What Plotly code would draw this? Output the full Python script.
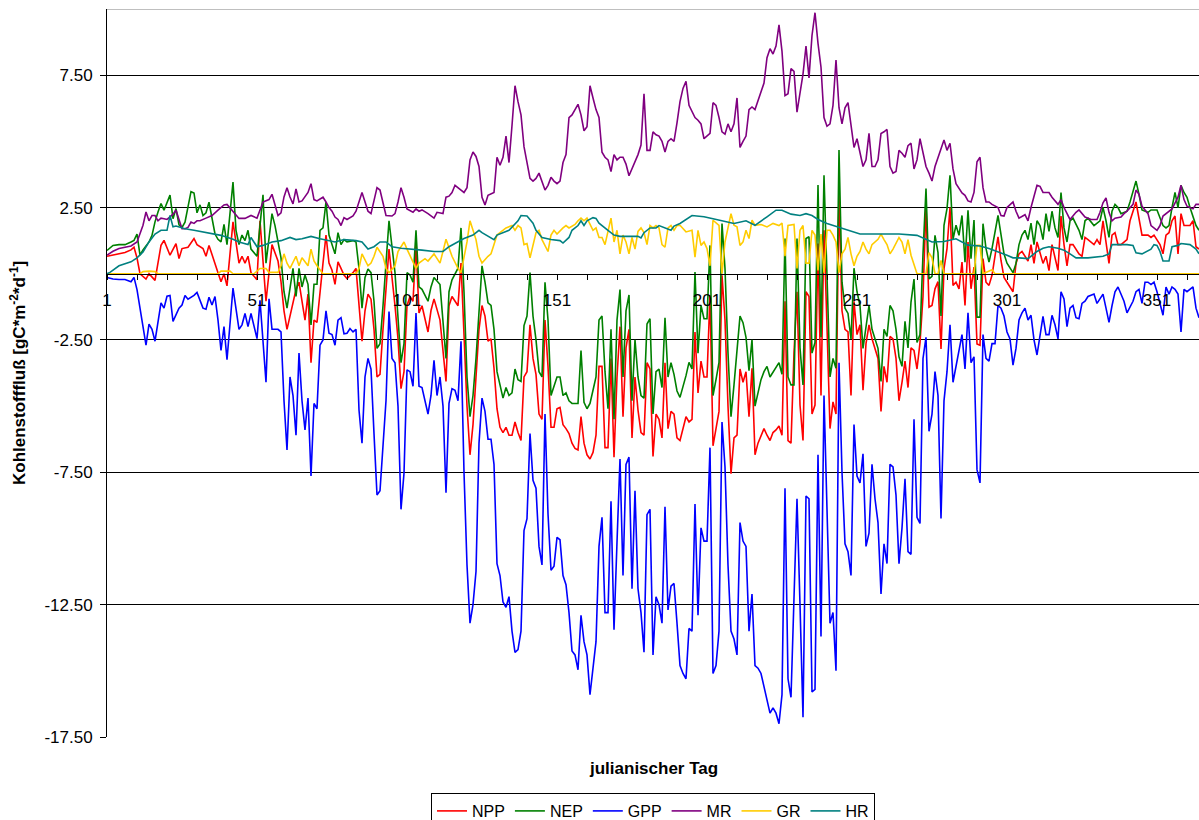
import plotly.graph_objects as go

# ---------------- data ----------------
npp_day = [1,3,5,7,9,10,11,12,14,15,17,19,20,22,24,25,26,28,30,31,33,34,35,36,38,39,40,41,43,45,46,47,48,49,51,52,54,56,57,58,59,60,61,63,64,65,67,68,69,70,71,73,74,75,76,77,78,79,80,81,83,84,85,86,87,88,89,90,91,92,93,95,97,98,99,100,101,102,103,104,105,106,108,109,110,112,114,115,116,118,119,120,121,122,123,124,125,126,127,128,129,130,131,132,133,134,135,136,137,138,139,140,141,142,143,144,145,146,147,148,149,150,151,152,153,154,155,156,157,158,159,160,161,162,163,164,165,166,167,168,169,170,171,172,173,174,175,176,177,178,179,180,181,182,183,184,185,186,187,188,189,190,191,192,194,195,196,197,198,199,200,201,202,203,204,205,206,207,208,209,210,211,212,213,214,215,216,217,218,219,220,221,222,223,224,225,226,227,228,229,230,231,232,233,234,235,236,237,238,239,240,241,242,243,244,245,246,247,248,249,250,251,252,253,254,255,256,258,259,260,261,262,263,264,265,266,267,268,269,270,271,272,273,274,275,276,277,278,279,280,281,282,283,284,285,286,287,288,289,290,291,292,293,294,295,296,298,299,300,301,302,303,304,305,306,308,309,310,311,313,314,315,316,317,318,319,320,321,322,323,325,326,327,328,330,331,332,333,334,335,336,337,338,339,341,342,344,345,346,348,349,350,352,353,354,355,356,357,358,359,360,362,363,364,365]
npp = [0.66,0.7,0.75,0.8,0.9,1.0,0.6,0.0,-0.2,0.0,-0.25,1.07,1.26,0.7,1.14,0.57,0.95,1.0,1.33,1.1,0.95,0.66,1.07,0.75,0.04,-0.3,0.0,-0.46,1.96,0.4,0.66,0.4,0.66,0.04,-0.23,2.0,-1.04,1.1,0.8,0.48,-0.3,-1.4,-2.1,-1.04,-0.6,-0.32,-1.75,-0.77,-3.36,-1.75,-1.84,0.4,1.46,0.4,0.13,-0.4,0.45,0.2,-0.05,-0.18,0.04,0.2,-1.04,-2.55,-1.4,-0.77,-0.96,-2.1,-3.9,-3.8,-2.1,0.93,-1.21,-2.46,-4.34,-3.7,-1.21,-0.86,-1.04,1.1,-1.48,-1.21,-2.2,-1.39,-0.95,-1.75,-4.07,-1.21,-0.86,-1.21,0.4,-2.46,-5.0,-6.84,-5.7,-3.9,-2.1,-1.2,-1.6,-2.55,-2.46,-3.57,-5.1,-5.8,-6.0,-5.8,-6.1,-6.1,-5.6,-6.0,-6.3,-3.9,-3.7,-1.93,-3.2,-3.8,-5.3,-5.5,-1.75,-3.5,-5.8,-5.8,-5.1,-5.05,-5.7,-5.85,-6.04,-6.4,-6.6,-6.66,-5.4,-6.4,-6.84,-7.0,-6.75,-6.1,-3.5,-3.5,-6.57,-6.57,-3.2,-6.93,-3.9,-2.0,-5.4,-2.8,-2.1,-6.2,-3.9,-5.15,-6.0,-6.1,-3.36,-3.6,-6.9,-5.3,-5.5,-6.2,-3.36,-5.85,-5.2,-5.3,-6.2,-6.3,-5.4,-5.6,-5.5,-2.2,-4.5,-3.3,-3.9,-3.9,-0.8,-6.5,-5.85,-5.2,-0.06,-1.75,-5.0,-7.55,-6.2,-6.1,-3.6,-4.1,-3.7,-5.4,-3.57,-6.84,-6.4,-6.1,-5.85,-6.1,-6.3,-6.0,-5.9,-5.75,-6.1,-1.04,-6.3,-6.4,-3.0,-0.68,-4.96,-6.3,-0.68,-0.86,-5.3,-4.96,1.14,-4.6,1.64,-2.0,-5.85,-4.84,-5.3,2.97,-1.4,-2.1,-2.2,-4.6,-1.04,-2.3,-1.93,-4.4,-2.64,-1.93,-2.46,-3.2,-5.2,-3.5,-4.1,-2.37,-2.46,-3.2,-4.8,-4.1,-3.3,-4.3,-2.8,-2.9,-3.6,-2.6,-0.86,2.6,-1.26,-1.2,-0.57,-0.3,-2.84,0.19,0.95,2.5,-0.44,-0.32,-0.57,0.44,-1.2,1.2,-0.57,0.25,-2.65,-2.7,0.57,-0.32,-0.44,-0.06,1.39,0.5,-0.14,-0.32,-0.5,-0.68,0.39,0.75,0.84,0.48,1.1,0.39,1.2,0.39,0.66,0.12,1.1,0.66,0.12,2.18,1.1,0.3,1.1,1.1,0.75,0.66,1.37,1.29,1.1,1.29,1.1,2.0,1.1,0.39,1.46,1.55,1.1,1.1,1.29,2.0,2.71,2.0,1.46,1.46,1.37,1.46,1.1,0.75,1.46,1.55,2.0,2.18,0.75,2.27,1.82,1.82,2.0,1.02,0.93]

nep_day = [1,3,5,7,9,10,11,12,13,15,16,17,18,19,20,21,22,23,24,25,26,27,29,30,31,32,33,34,35,37,38,39,40,41,43,44,45,46,47,48,49,51,53,54,56,57,59,60,61,63,64,65,66,67,68,69,70,71,72,73,74,75,77,78,79,80,81,83,84,85,86,87,88,89,90,91,92,93,95,97,98,99,100,101,102,103,104,105,106,108,109,110,112,114,115,116,118,119,120,121,122,123,124,125,126,127,128,129,130,131,132,133,134,135,136,137,138,139,140,141,142,143,144,145,146,147,148,149,151,152,153,154,155,156,157,158,159,160,161,162,163,164,165,166,167,168,169,170,171,172,173,174,175,176,177,178,179,180,181,182,183,184,185,186,187,188,189,190,191,192,194,195,196,197,198,199,200,201,202,203,204,205,206,207,208,209,210,212,213,214,215,216,217,218,219,220,221,222,223,224,225,226,227,228,229,230,231,232,233,234,235,236,237,238,239,240,241,242,243,244,245,246,247,248,249,250,251,252,253,254,255,256,258,259,260,261,262,263,264,265,266,267,268,269,270,271,272,273,274,275,276,277,278,279,280,281,282,283,284,285,286,287,288,289,290,291,292,293,294,295,296,298,299,300,301,303,304,305,306,307,308,309,310,311,312,313,314,315,316,317,318,319,320,321,322,323,325,326,327,328,330,331,332,333,334,335,336,337,338,339,341,342,344,345,346,348,349,351,352,353,354,355,356,357,358,359,360,361,362,363,364,365]
nep = [0.88,1.07,1.1,1.1,1.2,1.26,1.5,0.7,0.9,1.2,1.45,1.96,2.33,2.65,2.4,2.7,2.97,2.08,2.46,1.85,1.75,1.95,3.1,3.05,2.3,2.6,2.2,2.3,2.7,1.5,1.3,1.2,1.86,1.1,3.46,1.64,1.1,1.46,1.25,1.64,0.93,0.66,2.98,0.4,2.27,1.82,0.6,-0.68,-1.3,0.2,-0.86,0.2,-0.5,-0.05,-0.4,-1.93,-0.4,-0.4,1.64,1.73,2.71,1.46,0.75,1.55,1.1,1.29,1.2,1.25,1.2,0.2,-1.3,-0.14,0.18,0.04,-1.04,-2.82,-2.64,-1.21,2.0,0.04,-1.57,-3.36,-2.64,0.04,-0.05,-0.32,1.64,-0.5,-0.59,-1.04,-0.5,-0.14,-0.41,-3.2,-0.68,-0.23,0.21,1.73,-0.68,-3.9,-5.4,-4.6,-3.2,-1.4,0.3,-0.32,-1.1,-1.2,-2.1,-3.7,-4.2,-4.7,-4.3,-4.6,-4.5,-3.6,-4.0,-4.07,-1.96,-1.6,0.04,-1.6,-2.5,-3.7,-3.9,-0.32,-1.75,-4.6,-3.9,-3.9,-4.6,-4.5,-4.8,-4.9,-4.9,-4.9,-2.9,-4.86,-5.1,-4.9,-4.4,-3.9,-1.75,-1.6,-3.7,-5.1,-2.1,-5.5,-1.75,-0.6,-3.9,-1.4,-0.8,-4.8,-2.5,-3.9,-4.6,-4.7,-1.9,-1.7,-5.3,-3.7,-3.6,-4.3,-1.66,-3.9,-3.36,-3.8,-4.43,-4.67,-3.85,-3.35,-3.6,0.06,-3.0,-1.2,-1.7,-1.7,1.07,-4.6,-4.0,-3.35,1.9,0.2,-3.0,-5.4,-4.2,-1.6,-1.85,-2.4,-3.66,-2.5,-5.0,-4.43,-4.0,-3.7,-3.5,-3.9,-3.71,-3.54,-3.36,-3.8,1.33,-3.9,-4.2,-4.2,1.33,-2.8,-4.2,1.33,1.4,-3.0,-2.6,3.35,-2.4,3.72,-0.5,-3.9,-3.2,-3.57,4.67,-0.32,-1.3,-1.5,-2.46,0.21,-0.68,-1.2,-2.82,-1.93,-1.2,-2.1,-2.82,-4.07,-2.1,-2.37,-1.2,-1.4,-2.1,-3.14,-3.5,-1.8,-2.8,-1.07,-0.2,-2.6,-2.3,0.75,3.22,-0.2,-0.1,1.45,0.8,-1.6,1.83,2.46,3.72,1.3,1.83,1.45,2.2,0.44,2.4,0.57,2.03,-1.64,-1.64,1.89,0.95,0.44,0.95,2.2,1.45,0.75,0.4,0.04,0.39,1.1,1.46,1.64,1.29,1.91,1.1,2.0,1.82,1.29,2.27,1.6,2.36,1.73,1.37,3.07,1.73,1.2,2.0,2.1,1.64,1.29,2.0,2.1,1.82,1.91,2.0,2.5,2.0,1.37,2.36,2.62,2.5,2.27,2.36,2.71,3.5,3.0,2.41,2.32,2.41,2.41,2.1,1.82,1.73,1.82,2.5,3.07,2.5,3.34,3.07,2.89,2.5,2.18,1.82,1.64]

gpp_day = [1,3,5,7,9,10,11,13,14,15,16,17,19,20,21,22,23,25,26,27,28,30,31,33,34,35,36,37,38,39,40,41,43,45,46,47,48,49,51,52,54,55,56,58,59,60,61,62,63,64,65,66,67,68,69,70,71,72,73,74,75,76,77,78,79,80,81,82,83,84,85,86,87,88,89,90,91,92,94,95,96,97,98,99,100,101,102,103,104,105,106,108,109,110,111,112,113,114,115,116,117,118,119,120,121,122,123,124,125,126,127,128,129,130,131,132,133,134,135,136,137,138,139,140,141,142,143,144,145,146,147,148,149,150,151,152,153,154,155,156,157,158,159,160,161,162,163,164,165,166,167,168,169,170,171,172,173,174,175,176,177,178,179,180,181,182,183,184,185,186,187,188,189,190,191,192,193,194,195,196,197,198,199,200,201,202,203,204,205,206,207,208,209,210,211,212,213,214,215,216,217,218,219,220,221,222,223,224,225,226,227,228,229,230,231,232,233,234,235,236,237,238,239,240,241,242,243,244,245,246,247,248,249,250,251,252,253,254,255,256,257,258,259,260,261,262,263,264,265,266,267,268,269,270,271,272,273,274,275,276,277,278,279,280,281,282,283,284,285,286,287,288,289,290,291,292,293,294,295,296,297,298,299,300,301,302,303,304,305,306,307,308,309,310,311,313,314,315,316,317,318,319,320,321,322,323,324,325,326,327,328,330,331,333,334,335,336,337,338,339,340,341,343,344,345,346,347,348,349,350,351,353,354,355,356,357,358,359,360,361,363,364,365]
gpp = [-0.14,-0.2,-0.22,-0.22,-0.3,-0.14,-0.6,-1.9,-2.7,-1.9,-2.1,-2.55,-1.1,-1.3,-0.85,-0.82,-1.8,-1.3,-1.18,-0.82,-0.96,-0.82,-0.71,-1.3,-1.34,-0.89,-1.18,-0.86,-1.75,-2.9,-2.0,-3.25,-0.54,-2.1,-1.93,-1.5,-2.0,-1.5,-2.45,-1.0,-4.1,-0.95,-2.1,-2.1,-2.2,-4.8,-6.66,-3.9,-4.6,-6.1,-3.0,-4.8,-5.9,-4.7,-7.64,-4.9,-5.1,-2.7,-2.5,-1.4,-2.25,-2.3,-2.7,-1.75,-1.66,-2.27,-2.25,-2.07,-2.2,-2.1,-5.15,-6.4,-3.9,-3.2,-3.6,-6.04,-8.36,-8.2,-4.8,-1.43,-3.2,-3.36,-5.0,-8.9,-7.54,-3.63,-3.7,-4.25,-1.48,-4.25,-4.3,-5.3,-4.6,-3.27,-4.6,-3.9,-5.0,-8.27,-4.9,-4.34,-4.4,-4.8,-2.55,-7.5,-11.0,-13.2,-12.5,-11.25,-6.4,-4.7,-5.2,-6.25,-6.25,-7.2,-10.95,-11.4,-12.4,-12.6,-12.2,-13.5,-14.3,-14.2,-13.5,-9.7,-9.25,-6.04,-7.8,-8.1,-10.3,-11.0,-5.3,-9.07,-11.2,-11.05,-9.96,-10.05,-11.4,-11.75,-12.8,-14.25,-14.4,-14.96,-12.9,-13.9,-14.4,-15.9,-14.96,-13.9,-10.3,-9.2,-12.8,-12.8,-8.6,-13.45,-10.14,-7.0,-11.4,-7.2,-6.93,-11.9,-8.2,-11.9,-12.8,-14.3,-9.1,-8.9,-14.4,-12.2,-12.5,-13.2,-8.8,-12.7,-11.8,-11.7,-13.2,-14.8,-15.1,-15.3,-13.4,-13.5,-8.7,-12.9,-9.6,-10.1,-10.1,-6.57,-15.1,-14.8,-13.5,-5.6,-7.3,-11.0,-13.5,-13.8,-14.4,-9.4,-10.1,-10.3,-13.5,-12.1,-14.8,-14.9,-15.1,-15.6,-16.2,-16.6,-16.4,-16.6,-17.0,-15.9,-8.1,-15.3,-16.0,-12.0,-8.5,-12.5,-16.75,-8.4,-8.5,-15.8,-15.7,-6.84,-13.7,-4.6,-9.07,-13.2,-12.8,-15.0,-3.36,-7.5,-10.2,-10.5,-11.4,-5.7,-7.64,-7.9,-6.8,-10.3,-9.8,-7.2,-8.5,-9.4,-12.1,-10.2,-10.95,-7.2,-7.3,-8.36,-10.95,-9.6,-7.75,-10.5,-10.6,-5.5,-9.2,-9.43,-3.2,-2.4,-5.95,-5.3,-3.7,-4.6,-9.25,-4.8,-3.7,-1.93,-4.1,-3.5,-2.9,-2.3,-3.6,-1.48,-3.36,-3.14,-7.4,-7.9,-2.3,-3.2,-3.3,-2.64,-2.64,-1.2,-1.3,-1.6,-2.2,-2.46,-3.45,-2.82,-1.75,-1.48,-1.3,-1.75,-1.57,-2.5,-3.07,-1.61,-2.3,-2.3,-1.57,-1.93,-2.46,-0.68,-0.95,-2.0,-1.3,-1.2,-1.66,-1.7,-1.12,-1.04,-0.86,-0.77,-1.12,-0.77,-1.3,-1.84,-1.21,-0.68,-0.5,-0.77,-1.04,-1.48,-1.04,-0.68,-0.59,-1.12,-0.32,-0.32,-0.41,-0.32,-0.68,-1.57,-0.5,-0.77,-0.5,-0.59,-0.77,-2.2,-0.59,-0.68,-0.5,-1.3,-1.66]

mr_day = [1,3,5,7,9,11,13,14,15,16,17,18,19,20,21,22,23,24,26,27,28,29,30,31,32,34,36,38,40,41,43,45,47,49,51,53,55,56,58,59,60,61,62,63,64,65,66,68,69,70,71,73,74,75,76,77,78,79,80,81,83,84,86,88,89,90,91,92,93,94,96,97,98,99,100,101,103,104,105,106,108,110,111,113,114,115,116,117,119,120,121,122,123,124,125,126,127,128,130,131,132,133,134,135,136,137,138,139,140,141,142,143,144,145,146,147,148,149,150,151,152,153,154,155,156,157,158,159,160,161,162,163,164,165,166,167,168,169,170,171,172,173,174,175,176,177,178,179,180,181,182,183,184,185,186,187,188,189,190,191,192,193,194,195,196,197,198,199,200,201,202,203,204,205,206,207,208,209,210,211,212,213,214,215,216,217,218,219,220,221,222,223,224,225,226,227,228,229,230,231,232,233,234,235,236,237,238,239,240,241,242,243,244,245,246,247,248,249,250,251,252,253,254,255,256,257,258,259,260,261,262,263,264,265,266,267,268,269,270,271,272,273,274,275,276,277,278,279,280,281,282,283,284,286,287,288,289,290,291,292,293,294,295,296,298,299,300,301,303,304,305,307,308,309,311,312,313,315,316,318,319,320,322,324,325,327,329,331,332,333,334,335,336,337,339,340,341,343,344,345,346,348,349,351,352,353,355,356,358,359,360,361,363,364,365]
mr = [0.7,0.85,0.95,1.0,1.05,1.2,1.83,2.33,2.0,2.2,2.2,2.0,2.1,2.08,2.05,2.15,2.25,2.4,1.7,1.7,1.75,1.95,1.9,2.0,2.0,2.1,2.2,2.4,2.6,2.62,2.36,2.09,2.09,2.2,2.1,2.71,2.8,3.0,2.2,2.3,2.9,3.25,2.9,2.64,3.2,2.71,2.75,3.07,3.4,2.8,2.75,2.89,2.71,2.5,2.36,2.14,2.05,1.82,2.12,2.05,2.18,2.36,3.07,2.36,2.27,2.75,3.25,3.16,2.71,2.2,2.18,2.27,2.71,3.25,2.89,2.45,2.32,2.45,2.36,2.41,2.27,2.1,2.32,2.27,2.89,2.93,3.07,3.34,3.16,3.07,3.25,4.3,4.6,4.43,4.05,2.89,2.6,2.96,3.07,4.4,4.1,4.4,5.2,4.2,5.6,7.1,6.5,6.0,4.8,4.2,3.6,3.5,3.6,3.8,3.5,3.16,3.34,3.64,3.5,3.4,3.5,4.2,4.5,5.9,6.0,6.2,6.4,6.0,5.4,5.55,7.1,6.64,6.2,5.9,4.59,4.4,4.3,3.86,4.5,4.3,4.4,4.4,4.14,3.7,3.96,4.2,4.5,4.86,6.8,4.66,4.66,5.36,5.25,5.2,5.0,4.6,5.0,5.1,5.0,5.7,6.5,7.0,7.27,6.36,6.1,5.9,5.8,5.66,5.1,5.2,5.3,6.46,6.36,5.9,5.36,5.27,5.66,5.36,5.66,6.64,4.77,5.0,5.2,6.2,6.3,6.2,6.55,6.9,7.2,8.16,8.5,8.3,8.6,9.4,8.4,6.73,6.8,7.75,7.64,6.1,6.8,7.54,8.6,7.4,9.0,9.86,8.7,7.8,5.9,5.57,5.66,6.36,8.07,6.27,5.66,6.27,6.46,5.66,4.77,5.1,4.5,4.05,4.3,5.3,4.05,4.05,4.3,5.3,5.36,5.45,4.05,3.8,3.86,4.66,4.55,4.4,4.84,4.93,3.96,4.3,5.1,4.5,4.05,3.8,3.5,4.05,4.4,4.66,5.05,4.66,4.93,3.96,3.4,3.05,2.96,2.75,2.71,3.07,4.23,4.4,3.25,2.71,2.71,2.62,2.5,2.2,2.18,2.5,2.71,2.36,2.1,2.23,2.0,2.5,3.34,3.3,3.07,3.07,2.89,2.62,2.8,2.5,2.05,2.32,2.41,2.14,2.05,2.05,2.32,2.68,2.86,2.32,2.0,2.1,2.14,2.27,2.36,2.62,3.16,3.0,2.55,2.27,1.82,1.64,1.82,2.18,2.36,2.45,2.89,3.34,2.8,2.55,2.45,2.62,2.62]

gr_day = [1,12,13,15,17,18,38,39,42,43,50,52,54,55,58,59,60,61,62,64,65,66,68,69,70,71,73,84,85,86,88,89,90,91,93,94,95,97,98,100,101,103,104,105,107,108,110,112,114,116,118,119,120,121,122,124,125,126,128,129,130,131,132,133,134,136,137,138,139,140,141,142,143,144,145,146,148,149,150,151,153,154,155,157,158,159,160,161,163,164,165,166,167,168,169,170,171,172,173,174,175,176,177,178,179,180,181,182,183,184,185,186,187,188,189,190,191,192,194,196,197,198,199,200,201,202,203,205,206,207,208,209,210,211,212,213,214,215,216,217,219,221,223,225,226,227,228,230,231,232,233,234,235,236,237,238,239,240,241,242,243,244,245,246,247,248,249,250,251,252,253,254,255,256,258,259,260,261,262,263,265,266,267,268,269,270,271,274,275,276,277,278,279,280,290,291,292,293,295,296,297,365]
gr = [0,0,0.08,0.1,0.08,0,0,0.1,0.1,0,0,0.2,0.2,0.05,0.05,0.3,0.75,0.4,0.2,0.66,0.3,0.6,0.3,0.93,0.48,0.3,0,0,0.2,0.75,0.3,0.4,0.66,1.0,0.66,0.2,0.04,0.3,0.84,1.2,0.93,0.4,0.2,0.4,0.57,0.48,0.75,0.4,1.3,0.66,0.2,0.04,0.66,1.2,2.0,1.29,0.66,0.4,0.66,0.75,1.1,1.46,1.55,1.64,1.73,1.82,1.64,1.82,1.73,1.1,1.14,0.6,1.1,1.55,1.64,1.29,0.84,1.46,1.64,1.5,1.73,1.82,1.73,1.86,2.0,2.1,2.0,2.1,1.64,1.73,1.37,1.37,1.1,1.64,2.1,1.2,1.64,0.75,1.46,1.2,0.75,1.37,0.93,1.6,1.73,1.55,1.1,1.82,1.73,1.82,1.73,1.1,1.0,1.73,1.82,1.64,1.82,1.83,1.58,1.64,0.63,1.64,1.07,1.2,0.95,0.3,2.02,1.83,0.0,1.2,1.8,2.27,1.83,1.77,1.07,1.2,1.64,1.33,2.02,1.83,1.86,1.77,1.9,1.82,1.91,0.66,1.82,1.86,0.2,1.64,1.82,0.4,0.4,1.64,1.46,0.12,1.5,0.04,1.64,1.64,1.46,1.2,0.04,0.75,0.93,1.37,0.75,0.3,0.66,0.84,1.2,0.93,0.75,1.1,1.3,1.5,1.29,1.1,0.75,0.93,1.37,1.2,0.75,1.29,0.7,0.3,0.0,0.0,0.8,0.6,0.0,0.0,0.5,0.0,0.0,1.07,1.07,0.0,0.1,0.15,0.0,0.0]

hr_day = [1,2,5,9,11,13,15,17,19,21,22,23,24,27,30,33,36,39,43,45,48,49,51,53,56,59,62,64,66,69,72,75,77,80,84,86,88,90,92,94,96,99,103,106,110,113,115,118,120,123,125,126,129,130,131,133,135,138,139,141,143,144,146,149,152,153,155,156,158,159,160,161,163,164,165,168,170,172,176,178,179,180,182,184,185,187,189,190,192,196,200,203,206,210,214,217,221,224,226,229,232,234,236,238,241,243,247,252,258,265,271,276,280,284,288,292,295,299,301,303,305,308,309,311,313,315,318,320,322,324,328,331,333,335,336,341,343,344,346,349,350,351,352,353,355,356,358,359,362,364,365]
hr = [0.0,0.05,0.3,0.45,0.6,0.82,1.2,1.5,1.64,1.64,2.2,1.77,1.8,1.7,1.64,1.58,1.52,1.45,1.3,1.2,1.1,1.37,1.02,1.07,1.2,1.25,1.37,1.29,1.32,1.41,1.32,1.25,1.2,1.29,1.25,1.2,0.93,1.02,1.2,1.2,1.02,0.96,0.93,0.89,0.84,0.84,1.02,1.2,1.33,1.46,1.64,1.55,1.37,1.29,1.46,1.55,1.64,2.0,2.2,2.18,1.91,1.64,1.37,1.29,1.25,1.16,1.37,1.64,1.82,2.0,1.82,2.0,2.12,2.09,1.91,1.64,1.46,1.41,1.41,1.41,1.35,1.55,1.73,1.73,1.82,1.73,1.64,1.8,1.9,2.2,2.15,2.08,2.0,1.9,2.0,1.83,2.15,2.4,2.4,2.25,2.2,2.27,2.2,2.05,1.9,1.83,1.7,1.5,1.5,1.5,1.45,1.2,1.22,1.32,1.08,1.05,0.95,0.8,0.7,0.6,0.6,0.57,0.66,0.84,0.96,1.02,0.96,0.89,0.75,0.6,0.6,0.62,0.66,0.75,1.1,1.1,1.07,0.79,0.75,0.93,1.1,1.07,0.84,0.48,0.48,1.02,1.07,1.14,1.1,0.93,0.75]

series_names = ["NPP", "NEP", "GPP", "MR", "GR", "HR"]
series_colors = ["#FF0000", "#008000", "#0000FF", "#800080", "#FFCC00", "#008080"]
series_x = [npp_day, nep_day, gpp_day, mr_day, gr_day, hr_day]
series_y = [npp, nep, gpp, mr, gr, hr]

y_ticks = [-17.5, -12.5, -7.5, -2.5, 2.5, 7.5]
y_ticktext = ["-17.50", "-12.50", "-7.50", "-2.50", "2.50", "7.50"]
x_ticks = [1, 51, 101, 151, 201, 251, 301, 351]
x_ticktext = ["1", "51", "101", "151", "201", "251", "301", "351"]

Y_MIN, Y_MAX = -17.5, 10.0

# ---------------- figure ----------------
fig = go.Figure()
for name, col, xs, ys in zip(series_names, series_colors, series_x, series_y):
    fig.add_trace(go.Scatter(x=xs, y=ys, mode="lines", name=name,
                             line=dict(color=col, width=1.6)))

FONT = "Liberation Sans, Arial, sans-serif"
fig.update_layout(
    width=1199, height=820,
    margin=dict(l=107, r=0, t=9, b=83, autoexpand=False),
    paper_bgcolor="white", plot_bgcolor="white",
    font=dict(family=FONT, size=17, color="black"),
    showlegend=True,
    legend=dict(orientation="h", x=0.5, xanchor="center", y=-(793 - 737) / 728,
                yanchor="top", bordercolor="black", borderwidth=1,
                font=dict(size=16), itemwidth=30, tracegroupgap=0),
    xaxis=dict(range=[1, 365], anchor="free",
               position=(0 - Y_MIN) / (Y_MAX - Y_MIN),
               showline=True, linecolor="black", linewidth=1,
               tickmode="array", tickvals=x_ticks, ticktext=x_ticktext,
               ticks="outside", ticklen=5, tickcolor="black",
               ticklabelstandoff=6,
               minor=dict(tickmode="linear", tick0=1, dtick=10, ticks="outside",
                          ticklen=5, tickcolor="black", showgrid=False),
               showgrid=False, zeroline=False,
               tickfont=dict(size=17)),
    yaxis=dict(range=[Y_MIN, Y_MAX], tickmode="array", tickvals=y_ticks,
               ticktext=y_ticktext, ticks="outside", ticklen=6, tickcolor="black",
               ticklabelstandoff=4,
               showline=True, linecolor="black", linewidth=1,
               showgrid=True, gridcolor="black", gridwidth=1,
               zeroline=False, tickfont=dict(size=17)),
    shapes=[dict(type="line", xref="paper", yref="y", x0=0, x1=1, y0=Y_MAX, y1=Y_MAX,
                 line=dict(color="#808080", width=1))],
    annotations=[
        dict(text="<b>Kohlenstofffluß [gC*m<sup>-2</sup>*d<sup>-1</sup>]</b>",
             xref="paper", yref="paper", x=(18 - 107) / 1092, y=0.5,
             xanchor="center", yanchor="middle", textangle=-90, showarrow=False,
             font=dict(size=17)),
        dict(text="<b>julianischer Tag</b>", xref="paper", yref="paper",
             x=0.5, y=-(768 - 737) / 728, xanchor="center", yanchor="middle",
             showarrow=False, font=dict(size=17)),
    ],
)

fig.write_html("out.html", config={"displayModeBar": False},
               post_script="document.body.style.margin='0';")
